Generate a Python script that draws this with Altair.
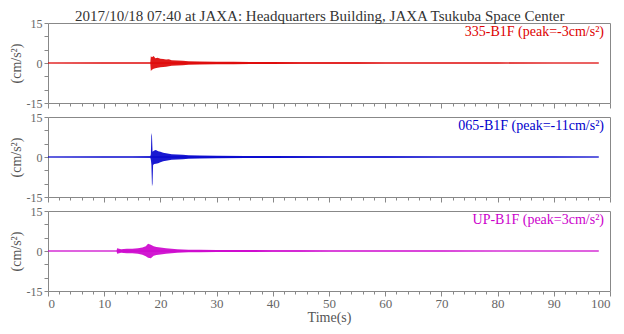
import altair as alt
import pandas as pd

TITLE = "2017/10/18 07:40 at JAXA: Headquarters Building, JAXA Tsukuba Space Center"
FONT = "Liberation Serif"

# Envelope of each trace (cm/s^2)
t_ns = [0, 10, 15, 18.2, 18.3, 18.5, 18.8, 19.1, 19.5, 20, 20.5, 21, 21.5, 22, 23, 24, 25, 27, 30, 33, 36, 40, 45, 50, 55, 60, 70, 80, 90, 98]
hi_ns = [0.1, 0.15, 0.15, 0.2, 2.5, 2.2, 2.6, 1.8, 2.0, 1.6, 1.5, 1.3, 1.4, 1.0, 0.9, 0.8, 0.7, 0.6, 0.5, 0.45, 0.4, 0.35, 0.3, 0.3, 0.25, 0.2, 0.15, 0.15, 0.1, 0.1]
lo_ns = [-0.1, -0.15, -0.2, -0.2, -3.0, -2.5, -2.2, -2.0, -1.8, -1.6, -1.5, -1.4, -1.2, -1.0, -0.9, -0.8, -0.7, -0.6, -0.5, -0.45, -0.4, -0.35, -0.3, -0.3, -0.25, -0.2, -0.15, -0.15, -0.1, -0.1]

t_ew = [0, 10, 15, 18.2, 18.3, 18.4, 18.5, 18.6, 18.7, 18.9, 19.2, 19.6, 20, 20.5, 21, 21.5, 22, 23, 24, 25, 27, 30, 35, 40, 50, 60, 70, 80, 90, 98]
hi_ew = [0.1, 0.15, 0.2, 0.3, 1.0, 9.0, 8.0, 2.0, 2.2, 2.4, 2.6, 2.2, 2.0, 1.6, 1.4, 1.2, 1.0, 0.9, 0.8, 0.7, 0.6, 0.5, 0.4, 0.35, 0.3, 0.25, 0.2, 0.15, 0.15, 0.1]
lo_ew = [-0.1, -0.15, -0.2, -0.3, -1.0, -3.0, -11.0, -10.0, -3.0, -2.6, -2.5, -2.3, -2.0, -1.6, -1.4, -1.2, -1.0, -0.9, -0.8, -0.7, -0.6, -0.5, -0.4, -0.35, -0.3, -0.25, -0.2, -0.15, -0.15, -0.1]

t_ud = [0, 12.2, 12.3, 13, 14, 15, 16, 16.8, 17.4, 17.8, 18.3, 18.8, 19.3, 20, 21, 22, 23, 25, 27, 30, 35, 40, 45, 50, 60, 70, 80, 90, 98]
hi_ud = [0.1, 0.1, 1.0, 0.7, 0.8, 0.8, 1.0, 1.3, 1.8, 2.7, 2.3, 1.8, 1.5, 1.3, 1.0, 0.8, 0.7, 0.5, 0.45, 0.4, 0.35, 0.3, 0.25, 0.2, 0.15, 0.15, 0.1, 0.1, 0.1]
lo_ud = [-0.1, -0.1, -1.0, -0.7, -0.8, -0.8, -1.0, -1.4, -2.0, -2.5, -2.7, -1.8, -1.5, -1.3, -1.0, -0.8, -0.7, -0.5, -0.45, -0.4, -0.35, -0.3, -0.25, -0.2, -0.15, -0.15, -0.1, -0.1, -0.1]

labels = ["335-B1F (peak=-3cm/s²)", "065-B1F (peak=-11cm/s²)", "UP-B1F (peak=3cm/s²)"]
colors = ["#dd0000", "#0000cc", "#cc00cc"]
trace_end = [0, 98]

x_ticks = list(range(0, 101, 2))
y_ticks = [-15, -10, -5, 0, 5, 10, 15]

W, H = 562, 80


def panel(t, hi, lo, color, label, show_x):
    df = pd.DataFrame({"t": t, "hi": hi, "lo": lo})
    xaxis = alt.Axis(
        values=x_ticks,
        labels=show_x,
        labelExpr="datum.value % 10 === 0 ? datum.label : ''",
        labelFlush=True,
        labelOverlap=False,
        tickSize={"condition": {"test": "datum.value % 10 === 0", "value": 5}, "value": 3},
        tickColor="#888",
        domain=False,
        grid=False,
        labelFont=FONT,
        labelFontSize=13,
        labelColor="#666",
        labelPadding=1,
        title="Time(s)" if show_x else None,
        titleFont=FONT,
        titleFontSize=14,
        titleFontWeight="normal",
        titleColor="#555",
        titlePadding=0,
    )
    yaxis = alt.Axis(
        values=y_ticks,
        labelExpr="datum.value === 15 ? '15' : datum.value === 0 ? '0' : datum.value === -15 ? '-15' : ''",
        labelOverlap=False,
        tickSize=4,
        tickColor="#888",
        domain=False,
        grid=False,
        labelFont=FONT,
        labelFontSize=12,
        labelColor="#666",
        labelPadding=2,
        title="(cm/s²)",
        titleFont=FONT,
        titleFontSize=14,
        titleFontWeight="normal",
        titleColor="#555",
        titlePadding=3,
    )
    xs = alt.Scale(domain=[0, 100], nice=False)
    ys = alt.Scale(domain=[-15, 15], nice=False)
    zero = alt.Chart(pd.DataFrame({"t": trace_end, "v": [0, 0]})).mark_line(
        color=color, strokeWidth=1
    ).encode(x=alt.X("t:Q", scale=xs, axis=xaxis), y=alt.Y("v:Q", scale=ys, axis=yaxis))
    area = alt.Chart(df).mark_area(color=color, opacity=0.9).encode(
        x=alt.X("t:Q", scale=xs, axis=xaxis),
        y=alt.Y("hi:Q", scale=ys, axis=yaxis),
        y2="lo:Q",
    )
    text = alt.Chart(pd.DataFrame({"s": [label]})).mark_text(
        align="right", baseline="alphabetic", font=FONT, fontSize=14, color=color
    ).encode(text="s:N", x=alt.value(W - 6), y=alt.value(13))
    return alt.layer(zero, area, text).properties(width=W, height=H)


chart = alt.vconcat(
    panel(t_ns, hi_ns, lo_ns, colors[0], labels[0], False),
    panel(t_ew, hi_ew, lo_ew, colors[1], labels[1], False),
    panel(t_ud, hi_ud, lo_ud, colors[2], labels[2], True),
    spacing=14,
    bounds="flush",
).properties(
    title=alt.TitleParams(TITLE, font=FONT, fontSize=15, fontWeight="normal", color="#333", anchor="middle", offset=-7, dx=10),
    padding={"left": 0, "top": 0, "right": 0, "bottom": 0},
).configure_view(stroke="#888", strokeWidth=1)

chart.save("out.html", embed_options={"renderer": "svg", "actions": False})
